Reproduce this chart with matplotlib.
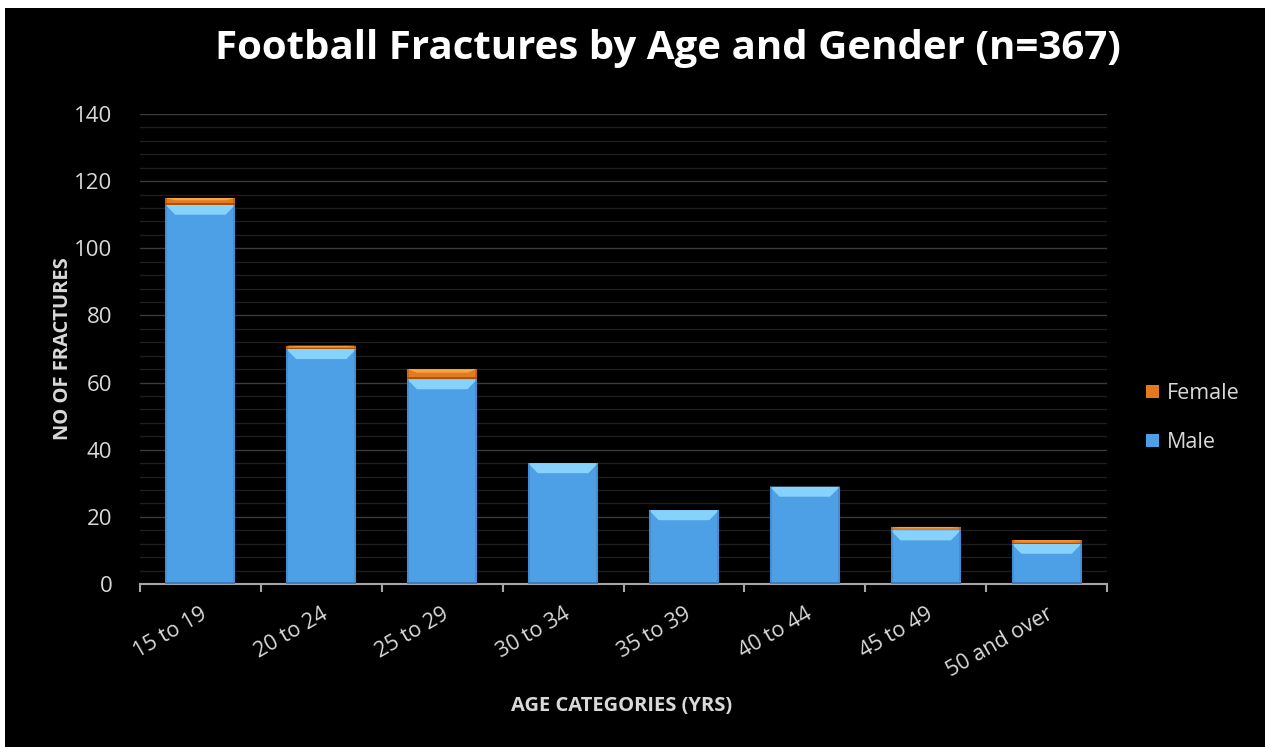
import numpy as np
import matplotlib.pyplot as plt
import matplotlib.patches as mpatches
from matplotlib.ticker import MultipleLocator

# data
age_groups = ['15 to 19', '20 to 24', '25 to 29', '30 to 34',
              '35 to 39', '40 to 44', '45 to 49', '50 and over']
male = [113, 70, 61, 36, 22, 29, 16, 12]
female = [2, 1, 3, 0, 0, 0, 1, 1]

plt.rcParams['font.family'] = ['Open Sans', 'DejaVu Sans']

BLUE = '#4d9fe6'
BLUE_TOP = '#86d2fb'
BLUE_DARK = '#3a7fc4'
ORANGE = '#e47a1e'
ORANGE_TOP = '#f7a445'
ORANGE_DARK = '#a9530f'
TEXT = '#d9d9d9'


def bevel(ax, bars, face, top, dark):
    # fake the Excel bevel look: light top strip, darker bottom strip
    for b in bars:
        x0, y0 = b.get_x(), b.get_y()
        w, h = b.get_width(), b.get_height()
        if h <= 0:
            continue
        dy = min(3.0, h * 0.35)
        dx = w * 0.14
        ax.add_patch(mpatches.Polygon(
            [(x0, y0 + h), (x0 + w, y0 + h), (x0 + w - dx, y0 + h - dy), (x0 + dx, y0 + h - dy)],
            closed=True, facecolor=top, edgecolor='none', zorder=3))
        ax.add_patch(mpatches.Rectangle((x0, y0), w, min(0.6, h * 0.2),
                                        facecolor=dark, edgecolor='none', zorder=3))
        ax.add_patch(mpatches.Rectangle((x0, y0), w * 0.03, h,
                                        facecolor=dark, edgecolor='none', alpha=0.5, zorder=3))
        ax.add_patch(mpatches.Rectangle((x0 + w * 0.97, y0), w * 0.03, h,
                                        facecolor=dark, edgecolor='none', alpha=0.5, zorder=3))


fig = plt.figure(figsize=(12.65, 7.47), dpi=100, facecolor='white')
# black chart area (screenshot has a thin white strip on top and left)
fig.patches.append(mpatches.Rectangle((5 / 1265, 0), 1, 1 - 8 / 747, transform=fig.transFigure,
                                      facecolor='black', edgecolor='none', zorder=-5))

ax = fig.add_axes([140 / 1265, 163 / 747, 967 / 1265, 470 / 747])
ax.set_zorder(2)
ax.set_facecolor('black')

x = np.arange(len(age_groups))
width = 0.58
male_bars = ax.bar(x, male, width, color=BLUE, zorder=2, label='Male')
female_bars = ax.bar(x, female, width, bottom=male, color=ORANGE, zorder=2, label='Female')
bevel(ax, male_bars, BLUE, BLUE_TOP, BLUE_DARK)
bevel(ax, female_bars, ORANGE, ORANGE_TOP, ORANGE_DARK)

ax.set_xlim(-0.5, len(age_groups) - 0.5)
ax.set_ylim(0, 140)
ax.yaxis.set_major_locator(MultipleLocator(20))
ax.yaxis.set_minor_locator(MultipleLocator(4))
ax.grid(which='major', axis='y', color='#3a3a3a', linewidth=1.0, zorder=0)
ax.grid(which='minor', axis='y', color='#1e1e1e', linewidth=1.0, zorder=0)
ax.set_axisbelow(True)

for s in ['top', 'right', 'left']:
    ax.spines[s].set_visible(False)
ax.spines['bottom'].set_color('#a6a6a6')
ax.spines['bottom'].set_linewidth(1.5)

# category ticks sit on the boundaries between groups
ax.set_xticks(np.arange(-0.5, len(age_groups), 1.0))
ax.set_xticklabels([])
ax.tick_params(axis='x', which='major', length=6, width=1.5, color='#a6a6a6')
ax.set_xticks(x, minor=True)
ax.set_xticklabels(age_groups, minor=True, rotation=30, ha='right', rotation_mode='anchor',
                   fontsize=15.5, color=TEXT)
ax.tick_params(axis='x', which='minor', length=0, pad=14)
ax.tick_params(axis='y', which='both', length=0, labelsize=16, labelcolor=TEXT, pad=20)

ax.set_ylabel('NO OF FRACTURES', fontsize=14.5, fontweight='bold', color=TEXT, labelpad=1)
fig.text(622 / 1265, 1 - 706 / 747, 'AGE CATEGORIES (YRS)', fontsize=14.5, fontweight='bold',
         color=TEXT, ha='center', va='center')
fig.text(668 / 1265, 1 - 48 / 747, 'Football Fractures by Age and Gender (n=367)', fontsize=29,
         fontweight='bold', color='white', ha='center', va='center')

leg = ax.legend(handles=[female_bars, male_bars], labels=['Female', 'Male'],
                loc='center left', bbox_to_anchor=(1.02, 0.353), frameon=False,
                fontsize=15.5, labelcolor=TEXT, handlelength=0.6, handleheight=0.6,
                handletextpad=0.4, labelspacing=1.3)

fig.savefig('out.png', dpi=100, facecolor=fig.get_facecolor())
